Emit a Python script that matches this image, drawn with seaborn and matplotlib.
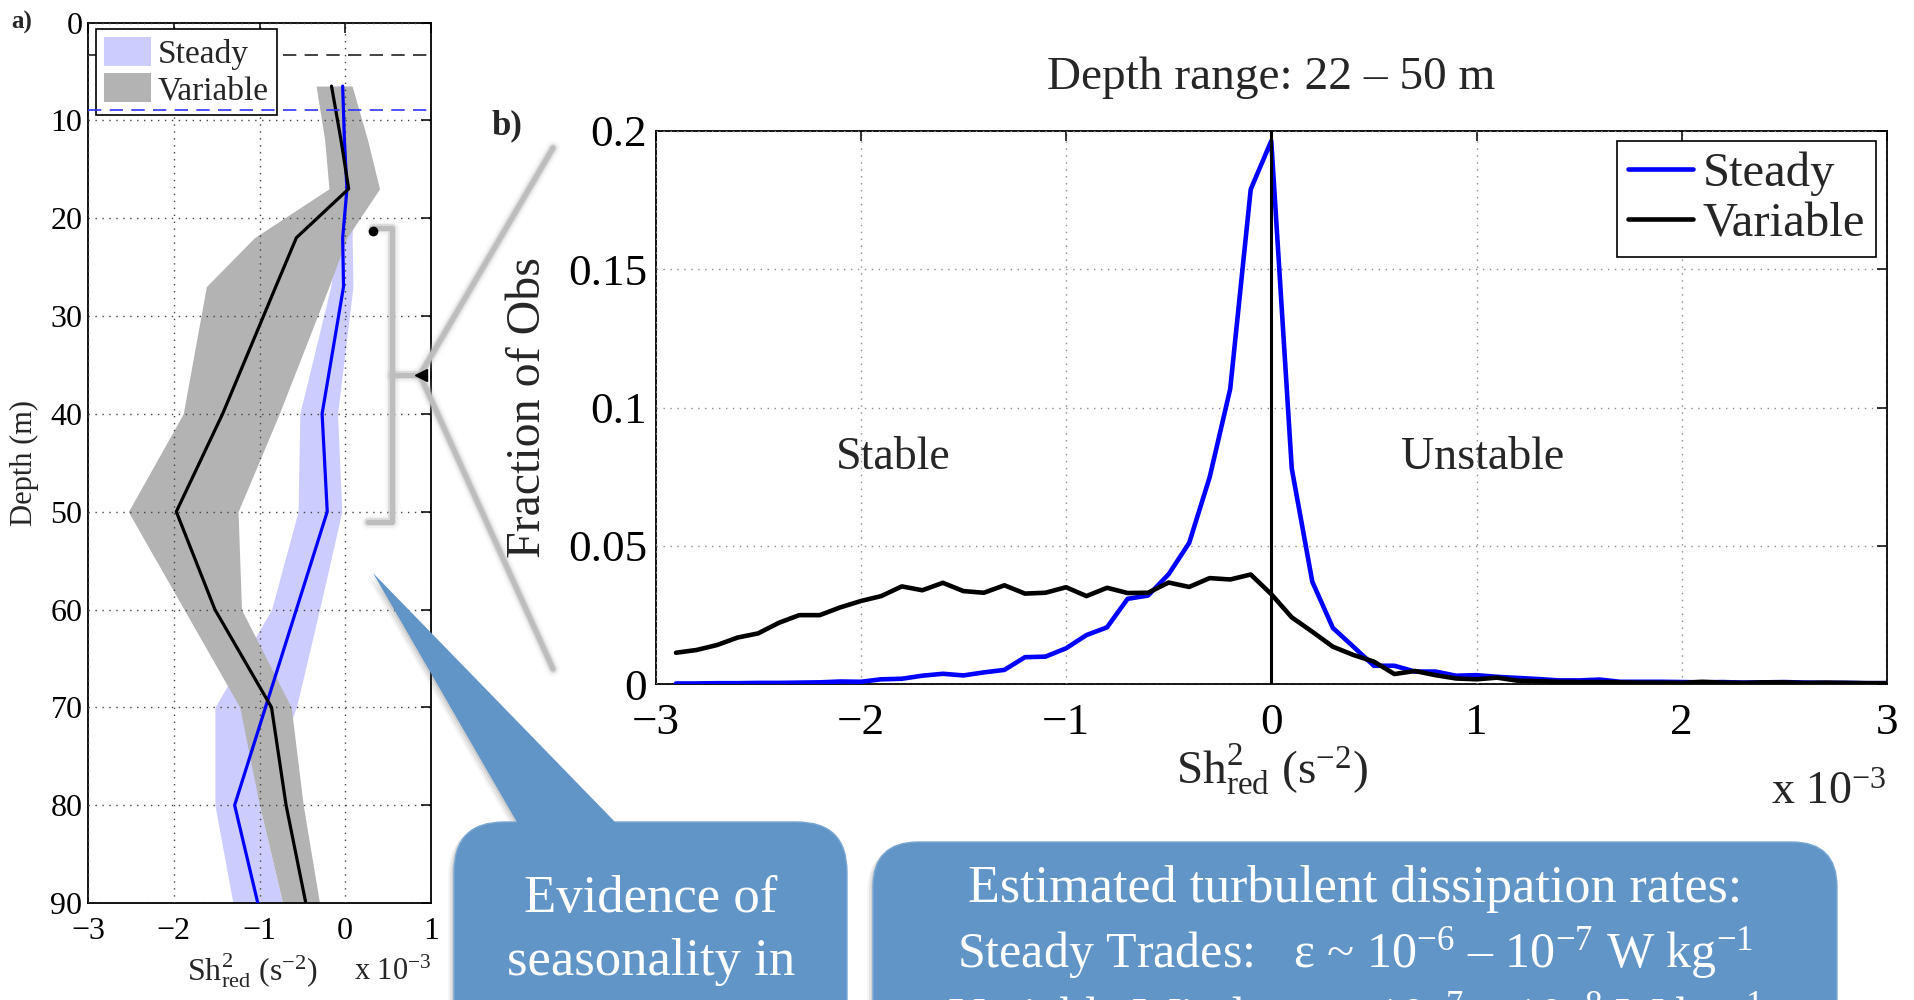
import numpy as np
import pandas as pd
import matplotlib
matplotlib.use("Agg")
import matplotlib.pyplot as plt
import seaborn as sns
from matplotlib.patches import Patch, FancyBboxPatch, Polygon
from matplotlib.lines import Line2D

W, H = 1914, 1000

# ---- panel a: reduced shear squared profiles (units of 1e-3 s^-2) ----
depth_m = [6.5, 12, 17, 22, 27, 40, 50, 60, 70, 80, 90]
steady_sh2 = [-0.03, -0.01, 0.02, -0.03, -0.02, -0.27, -0.21, -0.57, -0.93, -1.29, -1.02]
steady_low = [-0.12, -0.10, -0.08, -0.08, -0.17, -0.53, -0.55, -0.86, -1.52, -1.52, -1.31]
steady_high = [0.06, 0.08, 0.10, 0.08, 0.09, -0.09, -0.04, -0.30, -0.57, -1.00, -0.73]
variable_sh2 = [-0.16, -0.05, 0.04, -0.57, -0.81, -1.43, -1.97, -1.52, -0.86, -0.69, -0.46]
variable_low = [-0.34, -0.24, -0.19, -1.06, -1.62, -1.89, -2.53, -1.88, -1.23, -1.00, -0.73]
variable_high = [0.08, 0.26, 0.40, 0.02, -0.19, -0.77, -1.25, -1.21, -0.63, -0.49, -0.30]
mld_variable = 3.3
mld_steady = 8.9

# ---- panel b: distribution of Sh2_red over 22-50 m ----
shear_bins = [-2.9, -2.8, -2.7, -2.6, -2.5, -2.4, -2.3, -2.2, -2.1, -2.0,
              -1.9, -1.8, -1.7, -1.6, -1.5, -1.4, -1.3, -1.2, -1.1, -1.0,
              -0.9, -0.8, -0.7, -0.6, -0.5, -0.4, -0.3, -0.2, -0.1, 0.0,
              0.1, 0.2, 0.3, 0.4, 0.5, 0.6, 0.7, 0.8, 0.9, 1.0,
              1.1, 1.2, 1.3, 1.4, 1.5, 1.6, 1.7, 1.8, 1.9, 2.0,
              2.1, 2.2, 2.3, 2.4, 2.5, 2.6, 2.7, 2.8, 2.9, 3.0]
steady_frac = [0.0002, 0.0002, 0.0003, 0.0003, 0.0004, 0.0004, 0.0005, 0.0006, 0.0009, 0.0008,
               0.0017, 0.0019, 0.0030, 0.0037, 0.0031, 0.0042, 0.0051, 0.0097, 0.0099, 0.0129,
               0.0177, 0.0205, 0.0308, 0.0320, 0.0397, 0.0510, 0.0748, 0.1067, 0.1789, 0.1964,
               0.0779, 0.0370, 0.0203, 0.0135, 0.0066, 0.0066, 0.0045, 0.0045, 0.0030, 0.0032,
               0.0026, 0.0022, 0.0018, 0.0013, 0.0013, 0.0016, 0.0008, 0.0008, 0.0008, 0.0007,
               0.0006, 0.0007, 0.0005, 0.0006, 0.0007, 0.0005, 0.0004, 0.0004, 0.0003, 0.0003]
variable_frac = [0.0113, 0.0123, 0.0141, 0.0168, 0.0183, 0.0221, 0.0249, 0.0249, 0.0277, 0.0300,
                 0.0318, 0.0353, 0.0339, 0.0366, 0.0336, 0.0330, 0.0357, 0.0327, 0.0330, 0.0350,
                 0.0318, 0.0348, 0.0329, 0.0330, 0.0367, 0.0351, 0.0383, 0.0378, 0.0396, 0.0325,
                 0.0241, 0.0189, 0.0135, 0.0105, 0.0081, 0.0036, 0.0047, 0.0032, 0.0020, 0.0017,
                 0.0023, 0.0012, 0.0010, 0.0008, 0.0007, 0.0007, 0.0006, 0.0005, 0.0005, 0.0004,
                 0.0008, 0.0005, 0.0004, 0.0006, 0.0006, 0.0004, 0.0005, 0.0004, 0.0003, 0.0003]
regimes = ["Steady", "Variable"]
line_colors = {"Steady": "#0000ff", "Variable": "#000000"}
band_colors = {"Steady": "#ccccff", "Variable": "#b3b3b3"}

sns.set_theme(style="white")
plt.rcParams["font.family"] = ["Liberation Serif", "DejaVu Serif"]
plt.rcParams["mathtext.fontset"] = "custom"
plt.rcParams["mathtext.rm"] = "Liberation Serif"
plt.rcParams["mathtext.it"] = "Liberation Serif:italic"
plt.rcParams["mathtext.bf"] = "Liberation Serif:bold"
plt.rcParams["axes.unicode_minus"] = True

fig = plt.figure(figsize=(W / 100, H / 100), dpi=100)
fig.patch.set_facecolor("white")


def frac_box(x0, y0, x1, y1):
    return [x0 / W, 1 - y1 / H, (x1 - x0) / W, (y1 - y0) / H]


def matlab_axes(ax, tick_size, grid_color):
    for s in ax.spines.values():
        s.set_visible(True)
        s.set_color("black")
        s.set_linewidth(1.3)
    ax.tick_params(direction="in", length=7, width=1.1, top=True, right=True,
                   labelsize=tick_size, colors="black")
    ax.grid(True, linestyle=(0, (1, 4)), color=grid_color, linewidth=1.0)
    ax.set_axisbelow(False)


# ================= panel a =================
axa = fig.add_axes(frac_box(88, 22.5, 431, 903))
axa.fill_betweenx(depth_m, steady_low, steady_high, color=band_colors["Steady"], lw=0, zorder=1)
axa.fill_betweenx(depth_m, variable_low, variable_high, color=band_colors["Variable"], lw=0, zorder=2)
prof = pd.DataFrame({
    "depth": depth_m * 2,
    "sh2": steady_sh2 + variable_sh2,
    "regime": ["Steady"] * len(depth_m) + ["Variable"] * len(depth_m),
})
sns.lineplot(data=prof, x="sh2", y="depth", hue="regime", palette=line_colors,
             sort=False, estimator=None, linewidth=2.3, legend=False, ax=axa, zorder=3)
axa.axhline(mld_variable, color="#222222", lw=1.2, ls=(0, (8, 5)), zorder=2.5)
axa.axhline(mld_steady, color="#3333ff", lw=1.2, ls=(0, (8, 5)), zorder=6)
axa.set_xlim(-3, 1)
axa.set_ylim(90, 0)
axa.set_xticks([-3, -2, -1, 0, 1])
axa.set_yticks(np.arange(0, 91, 10))
matlab_axes(axa, 23, "#444444")
axa.tick_params(axis="x", pad=10)
axa.tick_params(axis="y", pad=4)
axa.set_xlabel("")
axa.set_ylabel("")
leg_a = axa.legend(
    handles=[Patch(facecolor=band_colors["Steady"], edgecolor="none", label="Steady"),
             Patch(facecolor=band_colors["Variable"], edgecolor="none", label="Variable")],
    loc="upper left", bbox_to_anchor=(96 / W, 1 - 29 / H), bbox_transform=fig.transFigure,
    borderaxespad=0, fontsize=24, frameon=True, fancybox=False, framealpha=1,
    edgecolor="black", handlelength=1.4, handleheight=0.95, handletextpad=0.2,
    labelspacing=0.1, borderpad=0.25)
leg_a.get_frame().set_linewidth(1.2)
leg_a.set_zorder(5)

# ================= panel b =================
axb = fig.add_axes(frac_box(655.5, 131, 1887, 684))
dist = pd.DataFrame({
    "shear": shear_bins * 2,
    "frac": steady_frac + variable_frac,
    "regime": ["Steady"] * len(shear_bins) + ["Variable"] * len(shear_bins),
})
sns.lineplot(data=dist, x="shear", y="frac", hue="regime", hue_order=regimes,
             palette=line_colors, estimator=None, sort=False, linewidth=3.3,
             legend=False, ax=axb, zorder=3)
axb.axvline(0, color="black", lw=2.2, zorder=4)
axb.set_xlim(-3, 3)
axb.set_ylim(0, 0.2)
axb.set_xticks([-3, -2, -1, 0, 1, 2, 3])
axb.set_yticks([0, 0.05, 0.1, 0.15, 0.2])
axb.set_yticklabels(["0", "0.05", "0.1", "0.15", "0.2"])
matlab_axes(axb, 32.5, "#8c8c8c")
axb.tick_params(axis="x", pad=14)
axb.tick_params(axis="y", pad=6)
axb.set_xlabel("")
axb.set_ylabel("")
axb.text(-1.84, 0.082, "Stable", fontsize=33, ha="center", va="center")
axb.text(1.03, 0.082, "Unstable", fontsize=33, ha="center", va="center")
leg_b = axb.legend(
    handles=[Line2D([], [], color=line_colors[r], lw=3.3, label=r) for r in regimes],
    loc="upper right", bbox_to_anchor=(1876 / W, 1 - 141 / H), bbox_transform=fig.transFigure,
    borderaxespad=0, fontsize=35, frameon=True, fancybox=False, framealpha=1,
    edgecolor="black", handlelength=1.35, handletextpad=0.2, labelspacing=0.12,
    borderpad=0.22)
leg_b.get_frame().set_linewidth(1.2)

# ================= overlay: labels, bracket, callouts =================
ov = fig.add_axes([0, 0, 1, 1], zorder=10)
ov.set_xlim(0, W)
ov.set_ylim(H, 0)
ov.axis("off")
ov.patch.set_alpha(0)

ov.text(22, 22, "a)", fontsize=18, fontweight="bold", ha="center", va="center")
ov.text(507, 126, "b)", fontsize=25, fontweight="bold", ha="center", va="center")
ov.text(24, 463, "Depth (m)", fontsize=22, rotation=90, ha="center", va="center")
ov.text(252, 980, r"Sh$^{2}_{\mathrm{red}}$ (s$^{-2}$)", fontsize=23, ha="center", va="baseline")
ov.text(431, 980, r"x 10$^{-3}$", fontsize=22, ha="right", va="baseline")
ov.text(1271, 78, "Depth range: 22 \u2013 50 m", fontsize=34, ha="center", va="center")
ov.text(528, 408, "Fraction of Obs", fontsize=34.5, rotation=90, ha="center", va="center")
ov.text(1272, 784, r"Sh$^{2}_{\mathrm{red}}$ (s$^{-2}$)", fontsize=34, ha="center", va="baseline")
ov.text(1886, 804, r"x 10$^{-3}$", fontsize=33, ha="right", va="baseline")


def soft_line(xs, ys, color="#bdbdbd"):
    for lw, a in [(11, 0.07), (8, 0.15), (5.5, 0.45), (3.6, 1.0)]:
        ov.plot(xs, ys, color=color, lw=lw, alpha=a, solid_capstyle="round",
                solid_joinstyle="round")


# bracket marking the depth range and the zoom lines into panel b
soft_line([373, 392, 392, 368], [228, 228, 522, 522])
soft_line([392, 420], [375, 375])
soft_line([553, 420, 553], [148, 375, 669])
ov.plot([373], [231], marker="o", ms=6, color="black")
ov.plot([421], [375], marker="<", ms=8, color="black")

callout_blue = "#6195c8"


def rounded_box(x, y, w, h, r):
    for dx, dy, a in [(-6, 5, 0.06), (-4, 3, 0.10), (-2, 2, 0.14)]:
        ov.add_patch(FancyBboxPatch((x + dx, y + dy), w, h,
                                    boxstyle=f"round,pad=0,rounding_size={r}",
                                    facecolor="#555555", edgecolor="none", alpha=a))
    ov.add_patch(FancyBboxPatch((x, y), w, h, boxstyle=f"round,pad=0,rounding_size={r}",
                                facecolor=callout_blue, edgecolor="#7aa7d4", lw=1.0))


# callout pointing at the deep part of the profiles
ptr = [(373, 573), (518, 824), (617, 824)]
for dx, dy, a in [(-6, 4, 0.06), (-4, 3, 0.10), (-2, 1, 0.14)]:
    ov.add_patch(Polygon([(px + dx, py + dy) for px, py in ptr], closed=True,
                         facecolor="#555555", edgecolor="none", alpha=a))
rounded_box(454, 822, 393, 260, 50)
ov.add_patch(Polygon(ptr, closed=True, facecolor=callout_blue, edgecolor="none"))
ov.text(651, 912, "Evidence of", fontsize=38, color="white", ha="center", va="baseline")
ov.text(651, 975, "seasonality in", fontsize=38, color="white", ha="center", va="baseline")

# dissipation rate summary
rounded_box(873, 842, 964, 260, 45)
ov.text(1355, 902, "Estimated turbulent dissipation rates:", fontsize=37.5, color="white",
        ha="center", va="baseline")
ov.text(1355, 967, "Steady Trades:   \u03b5 ~ 10$^{-6}$ \u2013 10$^{-7}$ W kg$^{-1}$", fontsize=36,
        color="white", ha="center", va="baseline")
ov.text(1355, 1032, "Variable Winds:  \u03b5 ~ 10$^{-7}$ \u2013 10$^{-8}$ W kg$^{-1}$", fontsize=36,
        color="white", ha="center", va="baseline")

fig.savefig("out.png", dpi=100, facecolor="white")
